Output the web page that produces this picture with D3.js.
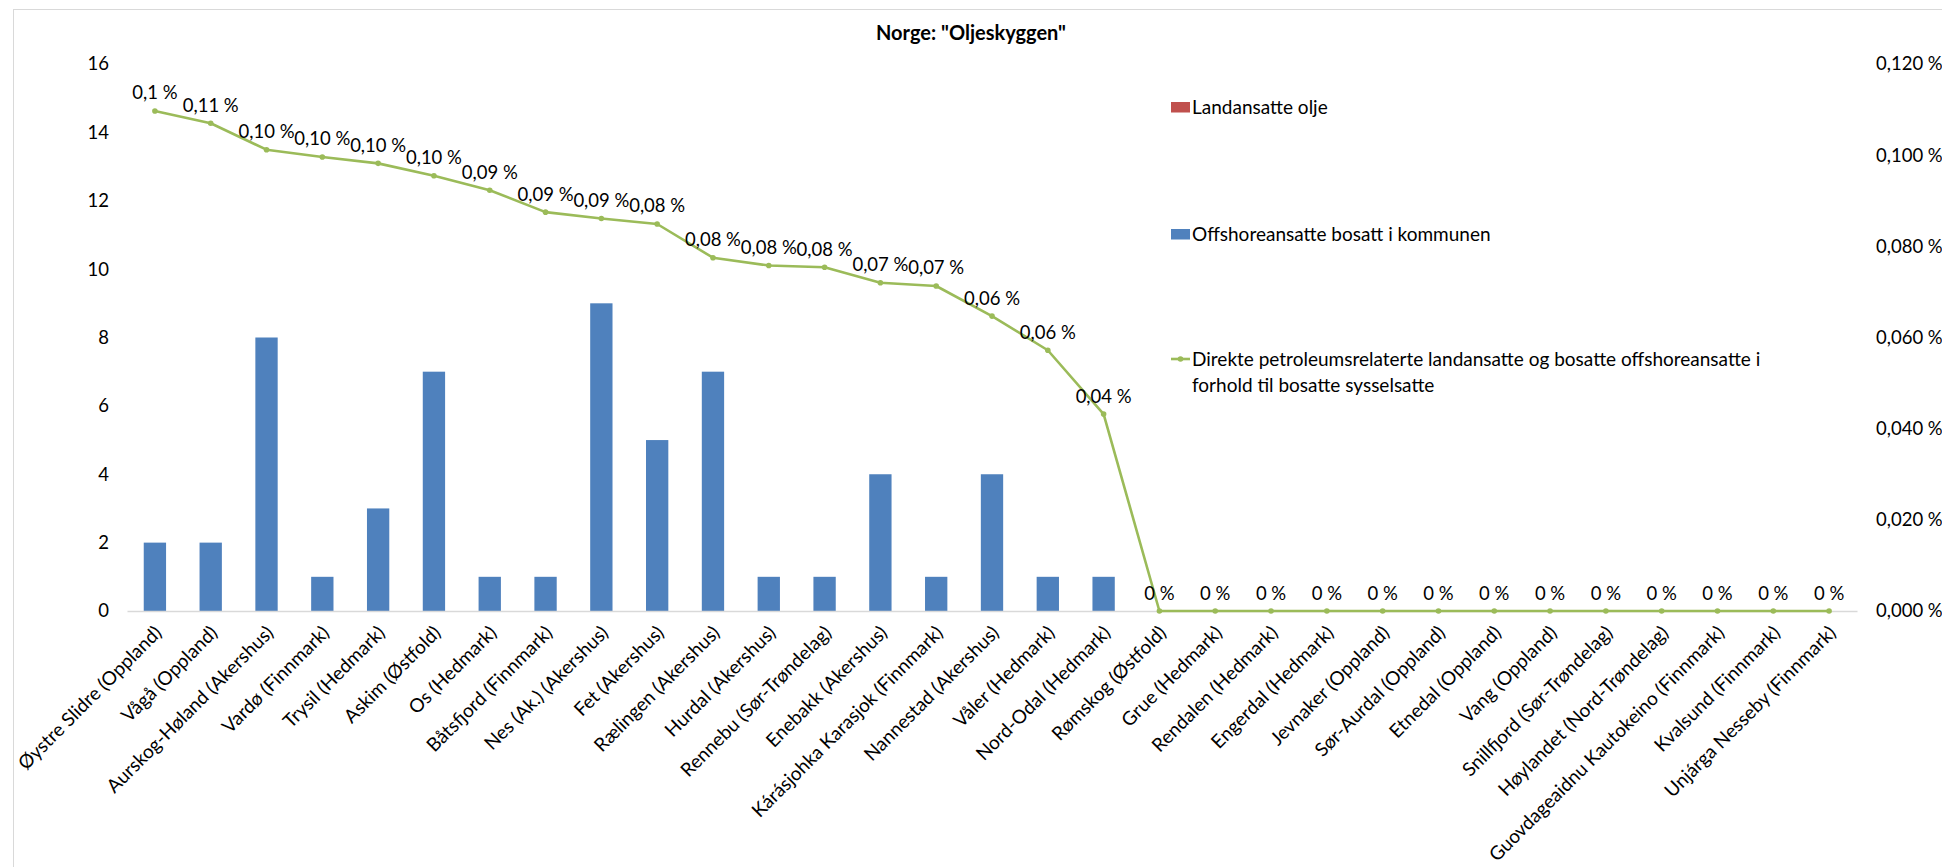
<!DOCTYPE html>
<html>
<head>
<meta charset="utf-8">
<script src="https://cdn.jsdelivr.net/npm/d3@7"></script>
<style>
  html, body { margin: 0; padding: 0; background: #fff; }
  svg { display: block; font-family: Lato, "Open Sans", sans-serif; }
</style>
</head>
<body>
<svg id="chart" width="1942" height="867"></svg>
<script>
// Kommuner, sortert etter andel petroleumsrelatert sysselsetting
const municipalities = [
  "Øystre Slidre (Oppland)", "Vågå (Oppland)", "Aurskog-Høland (Akershus)", "Vardø (Finnmark)",
  "Trysil (Hedmark)", "Askim (Østfold)", "Os (Hedmark)", "Båtsfjord (Finnmark)",
  "Nes (Ak.) (Akershus)", "Fet (Akershus)", "Rælingen (Akershus)", "Hurdal (Akershus)",
  "Rennebu (Sør-Trøndelag)", "Enebakk (Akershus)", "Kárásjohka Karasjok (Finnmark)", "Nannestad (Akershus)",
  "Våler (Hedmark)", "Nord-Odal (Hedmark)", "Rømskog (Østfold)", "Grue (Hedmark)",
  "Rendalen (Hedmark)", "Engerdal (Hedmark)", "Jevnaker (Oppland)", "Sør-Aurdal (Oppland)",
  "Etnedal (Oppland)", "Vang (Oppland)", "Snillfjord (Sør-Trøndelag)", "Høylandet (Nord-Trøndelag)",
  "Guovdageaidnu Kautokeino (Finnmark)", "Kvalsund (Finnmark)", "Unjárga Nesseby (Finnmark)"
];

// Landansatte olje (antall)
const landansatte = [
  0, 0, 0, 0, 0, 0, 0, 0, 0, 0, 0, 0, 0, 0, 0, 0,
  0, 0, 0, 0, 0, 0, 0, 0, 0, 0, 0, 0, 0, 0, 0
];

// Offshoreansatte bosatt i kommunen (antall)
const offshoreansatte = [
  2, 2, 8, 1, 3, 7, 1, 1, 9, 5, 7, 1, 1, 4, 1, 4,
  1, 1, 0, 0, 0, 0, 0, 0, 0, 0, 0, 0, 0, 0, 0
];

// Andel av bosatte sysselsatte, i prosent
const andelProsent = [
  0.1097, 0.1070, 0.1012, 0.0996, 0.0982, 0.0955, 0.0923, 0.0875,
  0.0861, 0.0849, 0.0775, 0.0758, 0.0754, 0.0720, 0.0713, 0.0647,
  0.0572, 0.0432, 0, 0, 0, 0, 0, 0, 0, 0, 0, 0, 0, 0, 0
];

// Dataetiketter slik de vises på linjen
const andelEtiketter = [
  "0,1 %", "0,11 %", "0,10 %", "0,10 %", "0,10 %", "0,10 %", "0,09 %", "0,09 %",
  "0,09 %", "0,08 %", "0,08 %", "0,08 %", "0,08 %", "0,07 %", "0,07 %", "0,06 %",
  "0,06 %", "0,04 %", "0 %", "0 %", "0 %", "0 %", "0 %", "0 %", "0 %", "0 %",
  "0 %", "0 %", "0 %", "0 %", "0 %"
];

const leftTicks = [0, 2, 4, 6, 8, 10, 12, 14, 16];
const rightTicks = [0, 0.02, 0.04, 0.06, 0.08, 0.10, 0.12];

const title = 'Norge: "Oljeskyggen"';
const legendItems = [
  { name: "Landansatte olje", type: "bar", color: "#c0504d" },
  { name: "Offshoreansatte bosatt i kommunen", type: "bar", color: "#4f81bd" },
  { name: ["Direkte petroleumsrelaterte landansatte og bosatte offshoreansatte i",
           "forhold til bosatte sysselsatte"], type: "line", color: "#9bbb59" }
];

// ---- layout ----
const W = 1942, H = 867;
const plot = { left: 127, right: 1857, top: 64, bottom: 611 };
const fontSize = 18.5;
const labelSize = 19;
const textColor = "#000";

const svg = d3.select("#chart");

// chart frame
svg.append("rect")
  .attr("x", 13.5).attr("y", 9.5)
  .attr("width", W).attr("height", H)
  .attr("fill", "#fff").attr("stroke", "#d9d9d9").attr("stroke-width", 1);

const x = d3.scaleBand().domain(municipalities).range([plot.left, plot.right]).padding(0);
const yLeft = d3.scaleLinear().domain([0, 16]).range([plot.bottom, plot.top]);
const yRight = d3.scaleLinear().domain([0, 0.12]).range([plot.bottom, plot.top]);
const cx = d => x(d) + x.bandwidth() / 2;

// stacked bars
const rows = municipalities.map((m, i) => ({ m, land: landansatte[i], offshore: offshoreansatte[i] }));
const stack = d3.stack().keys(["land", "offshore"])(rows);
const barColors = { land: "#c0504d", offshore: "#4f81bd" };
const barW = x.bandwidth() * 0.4;

svg.append("g").selectAll("g")
  .data(stack).join("g")
  .attr("fill", s => barColors[s.key])
  .selectAll("rect")
  .data(s => s.filter(d => d[1] - d[0] > 0))
  .join("rect")
  .attr("x", d => cx(d.data.m) - barW / 2)
  .attr("width", barW)
  .attr("y", d => yLeft(d[1]))
  .attr("height", d => yLeft(d[0]) - yLeft(d[1]));

// x axis
const xAxis = svg.append("g")
  .attr("transform", `translate(0,${plot.bottom})`)
  .call(d3.axisBottom(x).tickSize(0).tickSizeOuter(0));
xAxis.select(".domain").attr("stroke", "#d9d9d9").attr("stroke-width", 1.3);
xAxis.selectAll(".tick text")
  .attr("x", 0).attr("y", 0).attr("dy", 0)
  .attr("transform", "translate(8,23) rotate(-45)")
  .attr("text-anchor", "end")
  .attr("fill", textColor)
  .style("font-size", labelSize + "px")
  .style("font-family", "Lato, sans-serif");

// left axis
const yAxisL = svg.append("g")
  .attr("transform", `translate(${plot.left},0)`)
  .call(d3.axisLeft(yLeft).tickValues(leftTicks).tickSize(0).tickPadding(18));
yAxisL.select(".domain").remove();
yAxisL.selectAll("text")
  .attr("fill", textColor)
  .style("font-size", fontSize + "px")
  .style("font-family", "Lato, sans-serif");

// right axis
const pctFmt = d => d3.format(".3f")(d).replace(".", ",") + " %";
const yAxisR = svg.append("g")
  .attr("transform", `translate(${plot.right},0)`)
  .call(d3.axisRight(yRight).tickValues(rightTicks).tickSize(0).tickPadding(19).tickFormat(pctFmt));
yAxisR.select(".domain").remove();
yAxisR.selectAll("text")
  .attr("fill", textColor)
  .style("font-size", fontSize + "px")
  .style("font-family", "Lato, sans-serif");

// line
const lineData = municipalities.map((m, i) => ({ m, v: andelProsent[i], label: andelEtiketter[i] }));
const line = d3.line().x(d => cx(d.m)).y(d => yRight(d.v));
svg.append("path")
  .datum(lineData)
  .attr("d", line)
  .attr("fill", "none")
  .attr("stroke", "#9bbb59")
  .attr("stroke-width", 2.6)
  .attr("stroke-linejoin", "round");

svg.append("g").selectAll("circle")
  .data(lineData).join("circle")
  .attr("cx", d => cx(d.m))
  .attr("cy", d => yRight(d.v))
  .attr("r", 2.8)
  .attr("fill", "#9bbb59");

svg.append("g").selectAll("text")
  .data(lineData).join("text")
  .attr("x", d => cx(d.m))
  .attr("y", d => yRight(d.v) - 11.5)
  .attr("text-anchor", "middle")
  .attr("fill", textColor)
  .style("font-size", fontSize + "px")
  .text(d => d.label);

// title
svg.append("text")
  .attr("x", 971).attr("y", 40)
  .attr("text-anchor", "middle")
  .attr("fill", textColor)
  .style("font-size", "20px")
  .style("font-weight", "bold")
  .text(title);

// legend
const legendX = 1171;
const legendY = [107, 234, 359];
const lg = svg.append("g");
legendItems.forEach((item, i) => {
  const cy = legendY[i];
  if (item.type === "bar") {
    lg.append("rect")
      .attr("x", legendX).attr("y", cy - 5)
      .attr("width", 19).attr("height", 10.5)
      .attr("fill", item.color);
  } else {
    lg.append("line")
      .attr("x1", legendX).attr("x2", legendX + 19)
      .attr("y1", cy).attr("y2", cy)
      .attr("stroke", item.color).attr("stroke-width", 2.6);
    lg.append("circle")
      .attr("cx", legendX + 9.5).attr("cy", cy).attr("r", 2.8)
      .attr("fill", item.color);
  }
  const lines = Array.isArray(item.name) ? item.name : [item.name];
  const t = lg.append("text")
    .attr("x", legendX + 21)
    .attr("y", cy + 6.5)
    .attr("fill", textColor)
    .style("font-size", labelSize + "px");
  lines.forEach((s, j) => {
    t.append("tspan")
      .attr("x", legendX + 21)
      .attr("dy", j === 0 ? 0 : 26)
      .text(s);
  });
});
</script>
</body>
</html>
